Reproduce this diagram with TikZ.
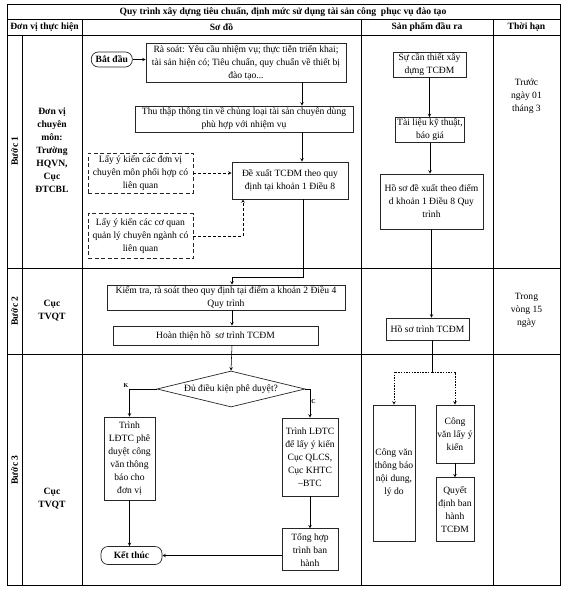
\documentclass[tikz,border=0pt]{standalone}
\usepackage{fontspec}
\setmainfont{Liberation Serif}
\usepackage{tikz}
\usetikzlibrary{shapes.geometric,arrows,positioning}

\begin{document}
\begin{tikzpicture}[
        x=1pt, y=-1pt,
        grid/.style={line width=0.9pt, black},
        box/.style={rectangle, draw=black!85, line width=0.7pt, fill=white, align=center, inner sep=1.5pt, font=\fontsize{9.6}{13}\selectfont},
        dbox/.style={box, dashed, dash pattern=on 4pt off 2.5pt},
        term/.style={box, rounded corners=7pt, font=\fontsize{9.6}{13}\selectfont\bfseries},
        decision/.style={diamond, draw=black!85, line width=0.7pt, aspect=4.1, inner sep=0pt, minimum width=148pt, minimum height=36pt, font=\fontsize{9.6}{13}\selectfont},
        head/.style={align=center, font=\fontsize{9.6}{13}\selectfont\bfseries},
        cell/.style={align=center, font=\fontsize{9.6}{13}\selectfont},
        lbl/.style={inner sep=1pt, font=\fontsize{6}{7}\selectfont\bfseries},
        relation/.style={->, line width=0.55pt, >=stealth},
        dashrel/.style={relation, dash pattern=on 3pt off 2pt},
        dotrel/.style={relation, dash pattern=on 1.5pt off 1.2pt}
    ]
        \useasboundingbox (0,0) rectangle (565,591);

        % Table
        \draw[grid] (7,4) rectangle (560,585);
        \draw[grid] (7,19) -- (560,19);
        \draw[grid] (7,35) -- (560,35);
        \draw[grid] (7,268) -- (560,268);
        \draw[grid] (7,354) -- (560,354);
        \draw[grid] (22,35) -- (22,585);
        \foreach \x in {82,361,493}
            \draw[grid] (\x,19) -- (\x,585);

        % Headers
        \node[head] (title) at (283,12) {Quy trình xây dựng tiêu chuẩn, định mức sử dụng tài sản công\ \ phục vụ đào tạo};
        \node[head] (hunit) at (44.5,27) {Đơn vị thực hiện};
        \node[head] (hflow) at (221.5,27) {Sơ đồ};
        \node[head] (hout) at (427,27) {Sản phẩm đầu ra};
        \node[head] (htime) at (526.5,27) {Thời hạn};

        % Steps and units
        \node[head, rotate=90] (step1) at (14.5,151) {Bước 1};
        \node[head, rotate=90] (step2) at (14.5,311) {Bước 2};
        \node[head, rotate=90] (step3) at (14.5,470) {Bước 3};
        \node[head] (unit1) at (52,150) {Đơn vị\\chuyên\\môn:\\Trường\\HQVN,\\Cục\\ĐTCBL};
        \node[head] (unit2) at (52,311) {Cục\\TVQT};
        \node[head] (unit3) at (52,499) {Cục\\TVQT};

        % Deadlines
        \node[cell] (time1) at (526.5,96) {Trước\\ngày 01\\tháng 3};
        \node[cell] (time2) at (526.5,310) {Trong\\vòng 15\\ngày};

        % Flow: step 1
        \node[box, minimum width=200pt, minimum height=39pt] (review) at (246,62.5) {Rà soát: Yêu cầu nhiệm vụ; thực tiễn triển khai;\\tài sản hiện có; Tiêu chuẩn, quy chuẩn về thiết bị\\đào tạo...};
        \node[term, minimum width=41pt, minimum height=15pt, left=13pt of review, yshift=3pt] (start) {Bắt đầu};
        \node[box, minimum width=218pt, minimum height=26pt] (collect) at (244,119) {Thu thập thông tin về chủng loại tài sản chuyên dùng\\phù hợp với nhiệm vụ};
        \node[box, minimum width=116pt, minimum height=37pt] (propose) at (290,180.5) {Đề xuất TCĐM theo quy\\định tại khoản 1 Điều 8};
        \node[dbox, minimum width=105pt, minimum height=40pt] (ask1) at (140.5,173) {Lấy ý kiến các đơn vị\\chuyên môn phối hợp có\\liên quan};
        \node[dbox, minimum width=105pt, minimum height=45pt, below=20pt of ask1] (ask2) {Lấy ý kiến các cơ quan\\quản lý chuyên ngành có\\liên quan};

        % Flow: step 2
        \node[box, minimum width=238pt, minimum height=23pt] (check) at (226,297.5) {Kiểm tra, rà soát theo quy định tại điểm a khoản 2 Điều 4\\Quy trình};
        \node[box, minimum width=205pt, minimum height=19pt] (finish) at (215.5,335.5) {Hoàn thiện hồ\ \ sơ trình TCĐM};

        % Flow: step 3
        \node[decision] (decide) at (231,389) {Đủ điều kiện phê duyệt?};
        \node[box, minimum width=51pt, minimum height=83pt] (reject) at (129.5,458.5) {Trình\\LĐTC phê\\duyệt công\\văn thông\\báo cho\\đơn vị};
        \node[box, minimum width=56pt, minimum height=78pt] (consult) at (310,457) {Trình LĐTC\\để lấy ý kiến\\Cục QLCS,\\Cục KHTC\\–BTC};
        \node[box, minimum width=56pt, minimum height=42pt, below=32pt of consult] (summary) {Tổng hợp\\trình ban\\hành};
        \node[term, minimum width=61pt, minimum height=18pt] (endnode) at (131.5,555.5) {Kết thúc};

        % Outputs
        \node[box, minimum width=73pt, minimum height=25pt] (need) at (429.5,64.5) {Sự cần thiết xây\\dựng TCĐM};
        \node[box, minimum width=63pt, minimum height=25pt] (docs) at (430,130) {Tài liệu kỹ thuật,\\báo giá};
        \node[box, minimum width=103pt, minimum height=55pt] (hs1) at (431.5,201.5) {Hồ sơ đề xuất theo điểm\\d khoản 1 Điều 8 Quy\\trình};
        \node[box, minimum width=83pt, minimum height=22pt] (hs2) at (427.5,329) {Hồ sơ trình TCĐM};
        \node[box, minimum width=42pt, minimum height=136pt] (cv1) at (394,473) {Công văn\\thông báo\\nội dung,\\lý do};
        \node[box, minimum width=38pt, minimum height=58pt] (cv2) at (455,434) {Công\\văn lấy ý\\kiến};
        \node[box, minimum width=38pt, minimum height=64pt, below=14pt of cv2] (qd) {Quyết\\định ban\\hành\\TCĐM};
        \coordinate (split) at (432,372);

        % Relations
        \draw[relation] (start.east) -- (start.east -| review.west);
        \draw[relation] ([xshift=56pt]review.south) -- ([xshift=58pt]collect.north);
        \draw[relation] ([xshift=58pt]collect.south) -- ([xshift=12pt]propose.north);
        \draw[dashrel] (ask1.east) -- (ask1.east -| propose.west);
        \draw[dashrel] (ask2.east) -| ([xshift=-47pt]propose.south);
        \draw[relation] ([xshift=13pt]propose.south) |- ([xshift=6pt,yshift=7pt]check.north) -- ([xshift=6pt]check.north);
        \draw[relation] ([xshift=6pt]check.south) -- ([xshift=16.5pt]finish.north);
        \draw[relation] ([xshift=16.5pt]finish.south) -- (decide.north);
        \draw[relation] (decide.west) -| node[pos=0.5, above left, lbl] {K} (reject.north);
        \draw[relation] (decide.east) -| node[pos=0.72, right, lbl] {C} (consult.north);
        \draw[relation] (reject.south) -- (reject.south |- endnode.north);
        \draw[relation] (consult.south) -- (summary.north);
        \draw[relation] (endnode.east -| summary.west) -- (endnode.east);

        \draw[relation] (need.south) -- (need.south |- docs.north);
        \draw[relation] (docs.south) -- (docs.south |- hs1.north);
        \draw[relation] (hs1.south) -- (hs1.south |- hs2.north);
        \draw[line width=0.55pt] (split |- hs2.south) -- (split);
        \draw[dotrel] (split) -| (cv1.north);
        \draw[dotrel] (split) -| (cv2.north);
        \draw[relation] (cv2.south) -- (qd.north);

    \end{tikzpicture}
\end{document}
